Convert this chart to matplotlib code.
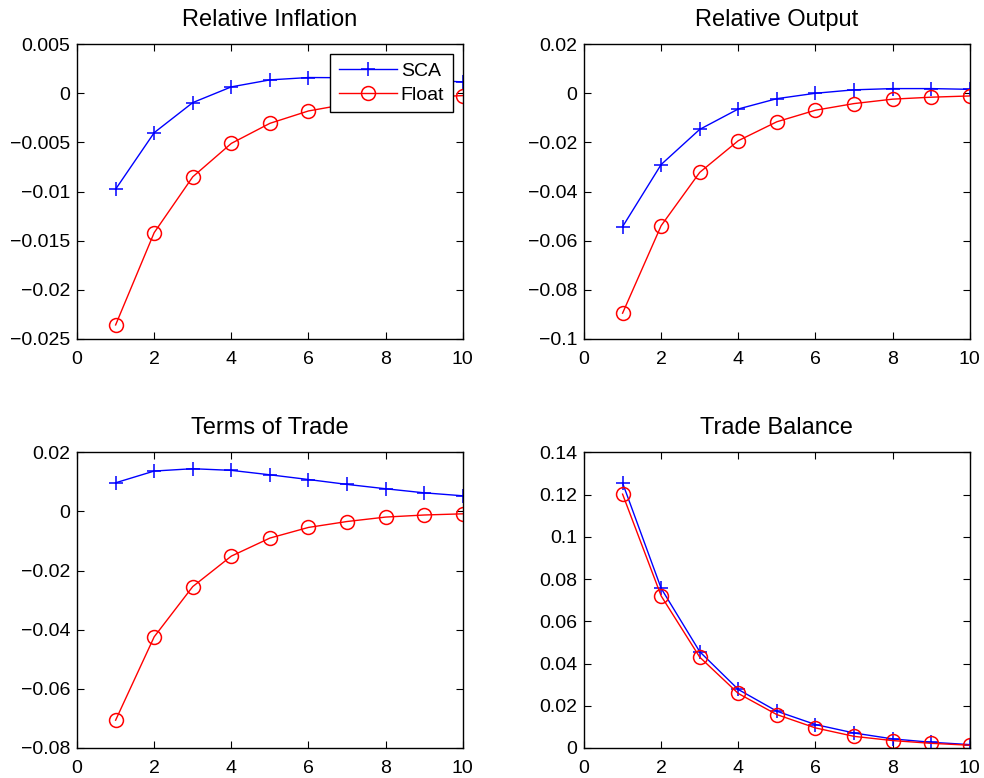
import matplotlib
matplotlib.use("Agg")
from matplotlib import pyplot as plt
from matplotlib.ticker import FuncFormatter

plt.rcParams["font.family"] = ["Liberation Sans", "DejaVu Sans"]
plt.rcParams["axes.unicode_minus"] = True

periods = [1, 2, 3, 4, 5, 6, 7, 8, 9, 10]

inflation_sca = [-0.00976, -0.00401, -0.00095, 0.00065, 0.00136, 0.0016, 0.00158, 0.00148, 0.00132, 0.00116]
inflation_float = [-0.02357, -0.01418, -0.0085, -0.0051, -0.00306, -0.0018, -0.0011, -0.0007, -0.0004, -0.00024]

output_sca = [-0.0543, -0.029, -0.0147, -0.0064, -0.0022, 0.0, 0.0014, 0.0019, 0.0019, 0.0016]
output_float = [-0.0895, -0.0539, -0.0322, -0.0193, -0.0116, -0.0069, -0.0042, -0.0024, -0.0016, -0.0011]

tot_sca = [0.0097, 0.01367, 0.01446, 0.0139, 0.0124, 0.0108, 0.00915, 0.00768, 0.0063, 0.0053]
tot_float = [-0.0706, -0.0424, -0.0254, -0.0151, -0.009, -0.0054, -0.0034, -0.0019, -0.0012, -0.0008]

tb_sca = [0.1255, 0.0756, 0.0456, 0.0277, 0.0174, 0.0111, 0.0071, 0.0043, 0.0027, 0.0016]
tb_float = [0.1202, 0.072, 0.043, 0.0258, 0.0158, 0.0095, 0.0055, 0.0035, 0.0022, 0.0013]

panels = [
    ("Relative Inflation", inflation_sca, inflation_float, (-0.025, 0.005), 0.005),
    ("Relative Output", output_sca, output_float, (-0.1, 0.02), 0.02),
    ("Terms of Trade", tot_sca, tot_float, (-0.08, 0.02), 0.02),
    ("Trade Balance", tb_sca, tb_float, (0, 0.14), 0.02),
]

# axes rectangles in figure fractions (left, bottom, width, height)
rects = [
    (0.0783, 0.5643, 0.392, 0.379),
    (0.5935, 0.5643, 0.392, 0.379),
    (0.0783, 0.0386, 0.392, 0.380),
    (0.5935, 0.0386, 0.392, 0.380),
]


def matlab_fmt(v, pos):
    if abs(v) < 1e-12:
        return "0"
    s = "%g" % round(v, 6)
    return s.replace("-", "\u2212")


fig = plt.figure(figsize=(9.84, 7.78), dpi=100)

for i, (title, sca, flt, ylim, step) in enumerate(panels):
    ax = fig.add_axes(rects[i])
    ax.plot(periods, sca, color="blue", marker="+", markersize=10, markeredgewidth=1.1, linewidth=1, label="SCA")
    ax.plot(periods, flt, color="red", marker="o", markersize=10, markerfacecolor="none",
            markeredgewidth=1.1, linewidth=1, label="Float")
    ax.set_xlim(0, 10)
    ax.set_ylim(*ylim)
    ax.set_xticks([0, 2, 4, 6, 8, 10])
    n = int(round((ylim[1] - ylim[0]) / step))
    ax.set_yticks([ylim[0] + k * step for k in range(n + 1)])
    ax.yaxis.set_major_formatter(FuncFormatter(matlab_fmt))
    ax.tick_params(direction="in", top=True, right=True, length=5, labelsize=14)
    ax.tick_params(axis="x", pad=9)
    ax.tick_params(axis="y", pad=5)
    ax.set_title(title, fontsize=17, pad=13)
    for sp in ax.spines.values():
        sp.set_linewidth(1)
    if i == 0:
        leg = ax.legend(loc="upper right", fontsize=14, fancybox=False, framealpha=1,
                        edgecolor="black", handlelength=3.0, borderaxespad=0.5,
                        borderpad=0.45, labelspacing=0.3, handletextpad=0.2)
        leg.get_frame().set_linewidth(1)

fig.savefig("out.png", dpi=100)
